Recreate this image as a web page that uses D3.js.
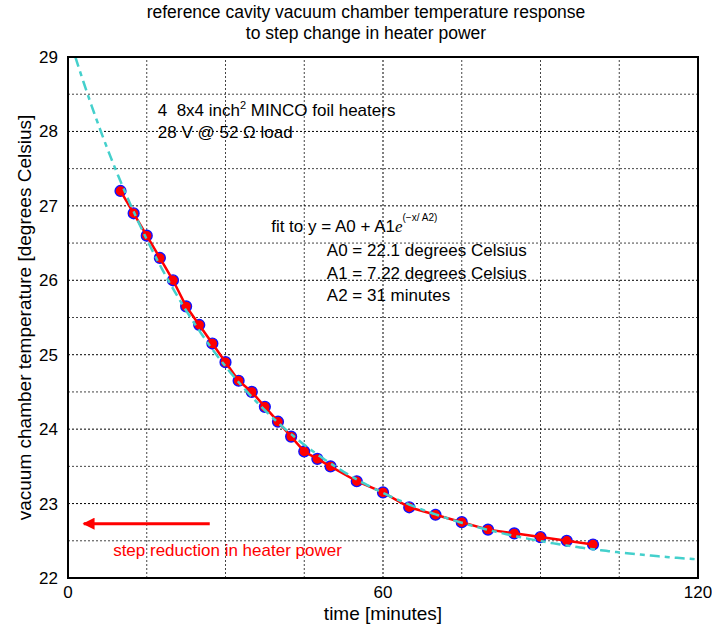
<!DOCTYPE html>
<html>
<head>
<meta charset="utf-8">
<script src="https://cdn.jsdelivr.net/npm/d3@7.9.0/dist/d3.min.js"></script>
<style>
  body { margin: 0; background: #fff; }
  svg { font-family: "Liberation Sans", Arial, sans-serif; }
  .grid line { stroke: #444; stroke-width: 1; stroke-dasharray: 2,2; }
</style>
</head>
<body>
<div id="chart"></div>
<script>
// measured temperatures (minutes, degrees C)
const times = [10, 12.5, 15, 17.5, 20, 22.5, 25, 27.5, 30, 32.5, 35, 37.5, 40, 42.5, 45, 47.5, 50, 55, 60, 65, 70, 75, 80, 85, 90, 95, 100];
const temps = [27.2, 26.9, 26.6, 26.3, 26.0, 25.65, 25.4, 25.15, 24.9, 24.65, 24.5, 24.3, 24.1, 23.9, 23.7, 23.6, 23.5, 23.3, 23.15, 22.95, 22.85, 22.75, 22.65, 22.6, 22.55, 22.5, 22.45];

// fit parameters as printed on the chart
const A0 = 22.1;
const A1 = 7.22;
const A2 = 31;

const xTicks = [0, 60, 120];
const yTicks = [22, 23, 24, 25, 26, 27, 28, 29];
const xGrid = [15, 30, 45, 60, 75, 90, 105];
const yGrid = [22.5, 23, 23.5, 24, 24.5, 25, 25.5, 26, 26.5, 27, 27.5, 28, 28.5];

const width = 712;
const height = 628;
const margin = { top: 57, right: 14, bottom: 50, left: 68 };

const svg = d3.select("#chart")
  .append("svg")
  .attr("width", width)
  .attr("height", height);

const x = d3.scaleLinear()
  .domain([0, 120])
  .range([margin.left, width - margin.right]);

const y = d3.scaleLinear()
  .domain([22, 29])
  .range([height - margin.bottom, margin.top]);

const defs = svg.append("defs");

defs.append("clipPath")
  .attr("id", "plot-clip")
  .append("rect")
  .attr("x", x(0))
  .attr("y", y(29))
  .attr("width", x(120) - x(0))
  .attr("height", y(22) - y(29));

// gridlines
const grid = svg.append("g").attr("class", "grid");

grid.selectAll("line.v")
  .data(xGrid)
  .join("line")
  .attr("class", "v")
  .attr("x1", d => x(d)).attr("x2", d => x(d))
  .attr("y1", y(22)).attr("y2", y(29))
  .style("stroke", d => d === 60 ? "#000" : null);

grid.selectAll("line.h")
  .data(yGrid)
  .join("line")
  .attr("class", "h")
  .attr("x1", x(0)).attr("x2", x(120))
  .attr("y1", d => y(d)).attr("y2", d => y(d))
  .style("stroke", d => Number.isInteger(d) ? "#000" : null);

// measured data: red line with blue-edged markers
const line = d3.line()
  .x((d, i) => x(times[i]))
  .y(d => y(d));

svg.append("g")
  .selectAll("circle")
  .data(temps)
  .join("circle")
  .attr("cx", (d, i) => x(times[i]))
  .attr("cy", d => y(d))
  .attr("r", 5.4)
  .attr("fill", "#ff0000")
  .attr("stroke", "#1010ff")
  .attr("stroke-width", 1.4);

svg.append("path")
  .datum(temps)
  .attr("d", line)
  .attr("fill", "none")
  .attr("stroke", "#ff0000")
  .attr("stroke-width", 2.5);

// exponential fit curve
const fitX = d3.range(0, 120.5, 0.5);
const fitLine = d3.line()
  .x(d => x(d))
  .y(d => y(A0 + A1 * Math.exp(-d / A2)));

svg.append("path")
  .datum(fitX)
  .attr("d", fitLine)
  .attr("clip-path", "url(#plot-clip)")
  .attr("fill", "none")
  .attr("stroke", "#44d0cc")
  .attr("stroke-width", 2.5)
  .attr("stroke-dasharray", "10,5,5,5");

// frame
svg.append("rect")
  .attr("x", x(0))
  .attr("y", y(29))
  .attr("width", x(120) - x(0))
  .attr("height", y(22) - y(29))
  .attr("fill", "none")
  .attr("stroke", "#000")
  .attr("stroke-width", 2);

// tick labels
svg.append("g")
  .selectAll("text")
  .data(xTicks)
  .join("text")
  .attr("x", d => x(d))
  .attr("y", y(22) + 20)
  .attr("text-anchor", "middle")
  .attr("font-size", 17)
  .text(d => d);

svg.append("g")
  .selectAll("text")
  .data(yTicks)
  .join("text")
  .attr("x", x(0) - 10)
  .attr("y", d => y(d) + 6)
  .attr("text-anchor", "end")
  .attr("font-size", 17)
  .text(d => d);

// axis titles
svg.append("text")
  .attr("x", x(60))
  .attr("y", 620)
  .attr("text-anchor", "middle")
  .attr("font-size", 19)
  .text("time [minutes]");

svg.append("text")
  .attr("transform", `translate(31,${(y(22) + y(29)) / 2}) rotate(-90)`)
  .attr("text-anchor", "middle")
  .attr("font-size", 19)
  .text("vacuum chamber temperature [degrees Celsius]");

// chart title
const title = svg.append("text")
  .attr("text-anchor", "middle")
  .attr("font-size", 17.5);
title.append("tspan").attr("x", 366).attr("y", 18)
  .text("reference cavity vacuum chamber temperature response");
title.append("tspan").attr("x", 366).attr("y", 39)
  .text("to step change in heater power");

// heater annotation
const heater = svg.append("text")
  .attr("x", x(17.1))
  .attr("y", y(28.21))
  .attr("font-size", 17)
  .style("white-space", "pre");
heater.append("tspan").text("4  8x4 inch");
heater.append("tspan").attr("dy", -7).attr("font-size", 11).text("2");
heater.append("tspan").attr("dy", 7).text(" MINCO foil heaters");

svg.append("text")
  .attr("x", x(17.1))
  .attr("y", y(27.91))
  .attr("font-size", 17)
  .text("28 V @ 52 \u03A9 load");

// fit annotation
const fit = svg.append("text")
  .attr("x", x(38.7))
  .attr("y", y(26.65))
  .attr("font-size", 17);
fit.append("tspan").text("fit to y = A0 + A1");
fit.append("tspan").attr("font-family", "Liberation Serif, serif").attr("font-style", "italic").text("e");
fit.append("tspan").attr("dy", -11).attr("font-size", 10).text("(\u2212x/ A2)");

const params = [
  ["A0 = 22.1 degrees Celsius", 26.33],
  ["A1 = 7.22 degrees Celsius", 26.02],
  ["A2 = 31 minutes", 25.72]
];

svg.append("g")
  .selectAll("text")
  .data(params)
  .join("text")
  .attr("x", x(49.3))
  .attr("y", d => y(d[1]))
  .attr("font-size", 17)
  .text(d => d[0]);

// step arrow
defs.append("marker")
  .attr("id", "arrowhead")
  .attr("viewBox", "0 0 10 10")
  .attr("refX", 9)
  .attr("refY", 5)
  .attr("markerWidth", 4.5)
  .attr("markerHeight", 4)
  .attr("orient", "auto")
  .append("path")
  .attr("d", "M0,0 L10,5 L0,10 z")
  .attr("fill", "#ff0000");

svg.append("line")
  .attr("x1", x(27))
  .attr("y1", y(22.73))
  .attr("x2", x(3))
  .attr("y2", y(22.73))
  .attr("stroke", "#ff0000")
  .attr("stroke-width", 3)
  .attr("marker-end", "url(#arrowhead)");

svg.append("text")
  .attr("x", x(8.6))
  .attr("y", y(22.3))
  .attr("font-size", 17)
  .attr("fill", "#ff0000")
  .text("step reduction in heater power");
</script>
</body>
</html>
